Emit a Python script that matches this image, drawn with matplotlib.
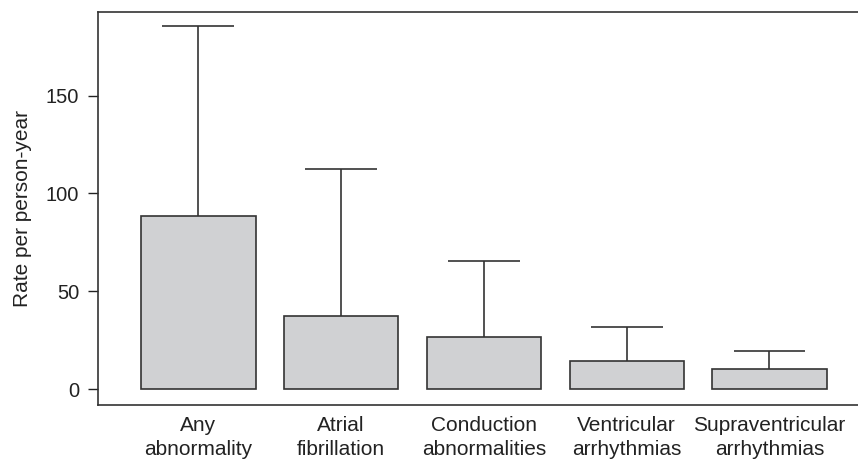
import numpy as np
import matplotlib
matplotlib.use('Agg')
from matplotlib import pyplot as plt

plt.rcParams['font.family'] = ['Liberation Sans', 'DejaVu Sans']

# data
categories = ['Any\nabnormality', 'Atrial\nfibrillation', 'Conduction\nabnormalities',
              'Ventricular\narrhythmias', 'Supraventricular\narrhythmias']
rates = [88.5, 37.4, 26.6, 14.5, 10.2]
upper = [185.4, 112.4, 65.4, 31.8, 19.7]

fig = plt.figure(figsize=(8.58, 4.59), dpi=100)
ax = fig.add_axes([0.1148, 0.1176, 0.8852, 0.8552])

x = np.arange(len(categories))
ink = '#333333'
# upper error bars only (whisker + cap)
ax.vlines(x, rates, upper, color=ink, linewidth=1.2, zorder=1)
ax.hlines(upper, x - 0.252, x + 0.252, color=ink, linewidth=1.2, zorder=1)
ax.bar(x, rates, width=0.8, color='#d0d1d3', edgecolor=ink, linewidth=1.2, zorder=2)

ax.set_xlim(-0.70, 4.62)
ax.set_ylim(-8.0, 192.4)
ax.set_yticks([0, 50, 100, 150])
ax.set_xticks(x)
ax.set_xticklabels(categories, fontsize=15, linespacing=1.35)
ax.tick_params(axis='x', length=0, pad=8, colors='#222222')
ax.tick_params(axis='y', length=7, width=1, labelsize=14.5, colors='#222222', pad=7)
ax.set_ylabel('Rate per person-year', fontsize=15, color='#222222', labelpad=10)

ax.spines['right'].set_visible(False)
for s in ['left', 'top', 'bottom']:
    ax.spines[s].set_color(ink)
    ax.spines[s].set_linewidth(1.2)

fig.savefig('out.png', dpi=100)
